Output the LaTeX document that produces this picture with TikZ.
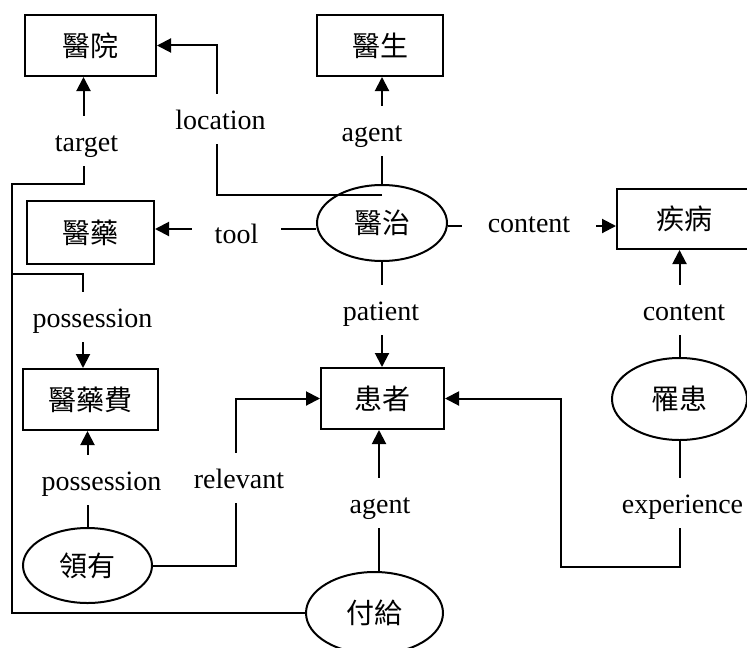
\documentclass[tikz,border=0pt]{standalone}
\usepackage{fontspec}
\setmainfont{Liberation Serif}
\newfontfamily\cjk{Noto Sans CJK TC}
\usetikzlibrary{arrows.meta,shapes.geometric,calc}

\tikzset{
  concept/.style={draw, rectangle, inner sep=0pt, line width=1pt,
    font=\cjk\fontsize{14}{14}\selectfont},
  event/.style={draw, ellipse, inner sep=0pt, line width=1pt,
    font=\cjk\fontsize{14}{14}\selectfont},
  rel/.style={fill=white, anchor=base, inner xsep=1pt, inner ysep=0pt,
    text height=17.5pt, text depth=7.5pt,
    font=\fontsize{14}{14}\selectfont},
  arr/.style={-{Triangle[length=7pt,width=7pt]}},
}

\begin{document}
\begin{tikzpicture}[x=0.5pt, y=-0.5pt, line width=1pt]
\useasboundingbox (0,0) rectangle (747,647);
\clip (0,0) rectangle (747,647);

% concepts
\node[concept, minimum width=65.5pt, minimum height=30.5pt] (hosp) at (90.5,45.5) {醫院};
\node[concept, minimum width=63pt,   minimum height=30.5pt] (doc)  at (380,45.5)  {醫生};
\node[concept, minimum width=63.5pt, minimum height=31.5pt] (med)  at (90.5,232.5) {醫藥};
\node[concept, minimum width=67pt,   minimum height=30pt]   (dis)  at (684,219)   {疾病};
\node[concept, minimum width=67.5pt, minimum height=30.5pt] (fee)  at (90.5,399.5) {醫藥費};
\node[concept, minimum width=61.5pt, minimum height=30.5pt] (pat)  at (382.5,398.5) {患者};

% events
\node[event, minimum width=65pt,   minimum height=38pt]   (treat) at (382,223)    {醫治};
\node[event, minimum width=67.5pt, minimum height=41pt]   (suf)   at (679.5,399)  {罹患};
\node[event, minimum width=64.5pt, minimum height=37.5pt] (own)   at (87.5,565.5) {領有};
\node[event, minimum width=68.5pt, minimum height=41pt]   (pay)   at (374.5,613)  {付給};

% bends of the long left-hand connector
\coordinate (bendT) at (12,184);
\coordinate (bendP) at (12,274);

% connectors
\draw[arr] (treat.north) -- (treat.north |- doc.south);
\draw[arr] ([yshift=-5.5pt]treat.north) -| ([xshift=30pt]hosp.east) -- (hosp.east);
\draw[arr] (treat.south) -- (treat.south |- pat.north);
\draw[arr] ([yshift=-3pt]treat.west) -- ([yshift=-3pt]treat.west -| med.east);
\draw[arr] ([yshift=-1.5pt]treat.east) -- ([yshift=-1.5pt]treat.east -| dis.west);
\draw[arr] (suf.north) -- (suf.north |- dis.south);
\draw[arr] (suf.south) |- (561,567) |- (pat.east);
\draw[arr] (own.north) -- (own.north |- fee.south);
\draw[arr] (own.east) -| ([xshift=-42pt]pat.west) -- (pat.west);
\draw[arr] ([xshift=2.25pt]pay.north) -- ([xshift=2.25pt]pay.north |- pat.south);
\draw[arr] (pay.west) -| (bendT) -| ([xshift=-3.5pt]hosp.south);
\draw[arr] (bendP) -| ([xshift=-3.75pt]fee.north);

% relation labels
\node[rel] (lTarget)   at (86.5,151)  {target};
\node[rel] (lLocation) at (220.5,129) {location};
\node[rel] (lAgentA)   at (372,141)   {agent};
\node[rel, inner xsep=11.5pt] (lTool) at (236.5,243) {tool};
\node[rel, inner xsep=13pt] (lContentA) at (529,232) {content};
\node[rel] (lPossA)    at (92.5,327)  {possession};
\node[rel] (lPatient)  at (381,320)   {patient};
\node[rel] (lContentB) at (684,320)   {content};
\node[rel] (lPossB)    at (101.5,490) {possession};
\node[rel] (lRelevant) at (239,488)   {relevant};
\node[rel] (lAgentB)   at (380,513)   {agent};
\node[rel] (lExper)    at (682.5,513) {experience};
\end{tikzpicture}
\end{document}
